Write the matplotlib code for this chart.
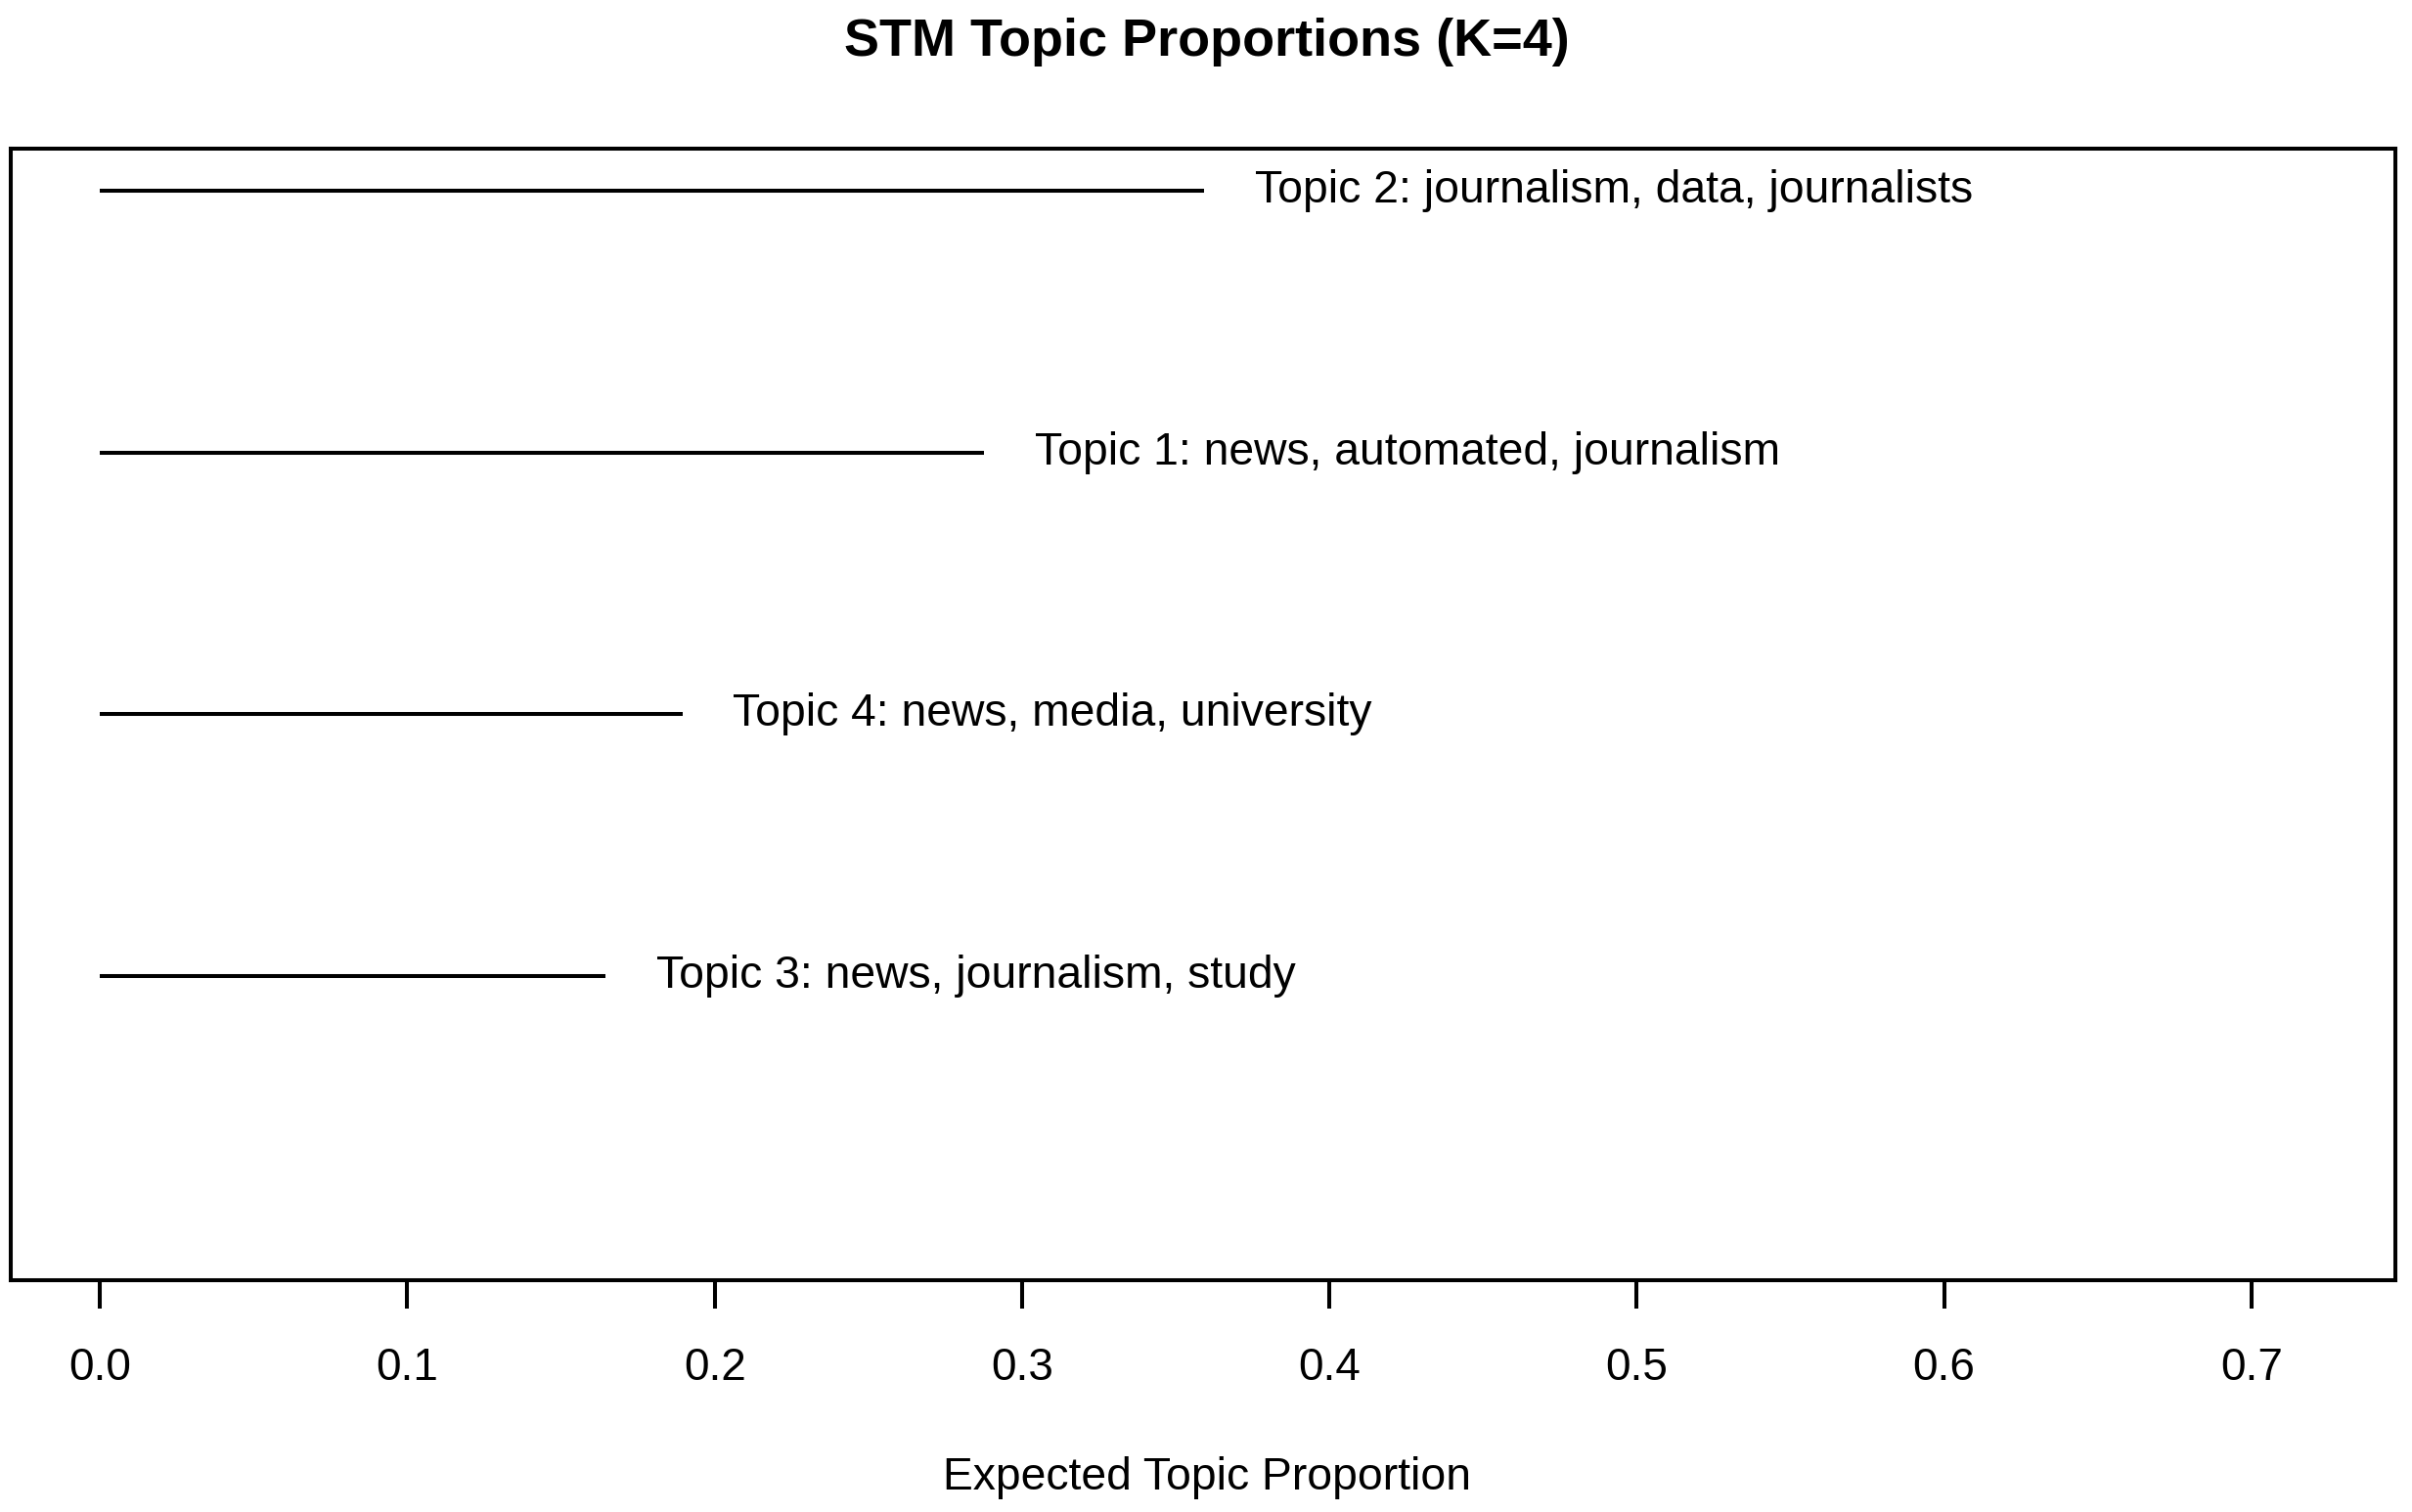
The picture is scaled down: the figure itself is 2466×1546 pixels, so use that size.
import numpy as np
import matplotlib
matplotlib.use("Agg")
import matplotlib.pyplot as plt

plt.rcParams['font.family'] = ['Liberation Sans', 'DejaVu Sans']

# topics, top to bottom
topic_labels = ["Topic 2: journalism, data, journalists",
                "Topic 1: news, automated, journalism",
                "Topic 4: news, media, university",
                "Topic 3: news, journalism, study"]
proportions = [0.3593, 0.2877, 0.1895, 0.1646]
xticks = [0.0, 0.1, 0.2, 0.3, 0.4, 0.5, 0.6, 0.7]

fig = plt.figure(figsize=(24.66, 15.46), dpi=100)
ax = fig.add_axes([0.00446, 0.1533, 0.98864, 0.7484])

ypos = np.arange(len(proportions), 0, -1)
for y, p, lab in zip(ypos, proportions, topic_labels):
    ax.plot([0, p], [y, y], color="black", lw=2.9, solid_capstyle="butt")
    ax.annotate(lab, xy=(p, y), xytext=(37, 0), textcoords="offset points",
                ha="left", va="center", fontsize=33.3)

ax.set_xlim(-0.029, 0.7468)
ax.set_ylim(-0.16, 4.16)
ax.set_yticks([])
ax.set_xticks(xticks)
ax.set_xticklabels(["%.1f" % t for t in xticks], fontsize=33)
ax.tick_params(axis="x", length=21, width=2.9, pad=28)
for s in ax.spines.values():
    s.set_linewidth(2.9)

fig.text(0.5004, 0.972, "STM Topic Proportions (K=4)", ha="center", va="center",
         fontsize=38.9, fontweight="bold")
fig.text(0.5004, 0.0226, "Expected Topic Proportion", ha="center", va="center",
         fontsize=33.3)

fig.savefig("out.png", dpi=100)
